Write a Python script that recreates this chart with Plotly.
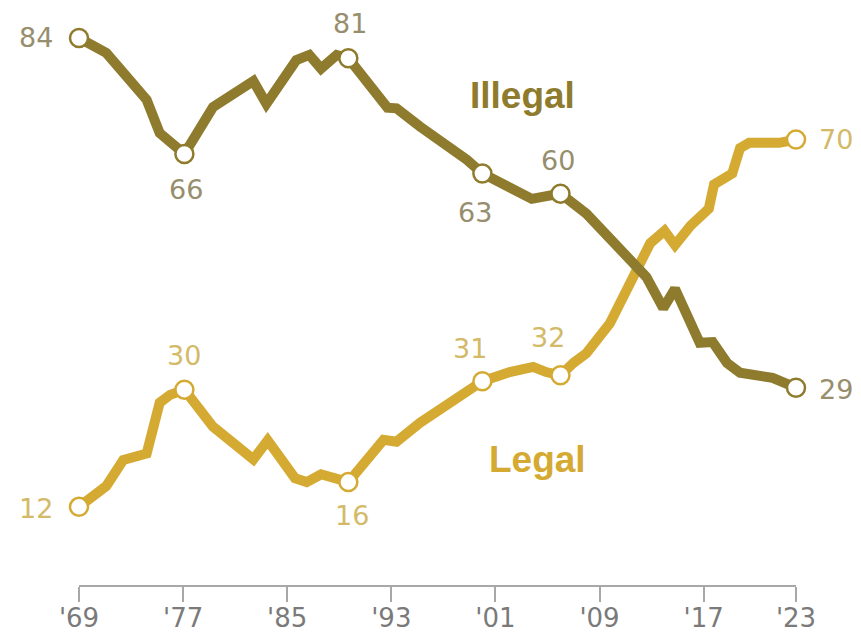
import plotly.graph_objects as go

# ---------------- data ----------------
legal_years = [1969.0, 1971.1, 1972.4, 1974.2, 1975.2, 1976.0, 1977.1, 1979.3, 1982.4, 1983.5,
               1985.6, 1986.5, 1987.6, 1989.7, 1992.4, 1993.4, 1995.2, 1996.7, 1998.3, 2000.0,
               2002.1, 2003.9, 2004.9, 2006.0, 2007.0, 2008.0, 2009.8, 2010.8, 2011.9, 2012.9,
               2014.0, 2014.8, 2016.0, 2017.4, 2017.8, 2019.2, 2019.8, 2020.5, 2022.8, 2024.1]
legal_values = [12.0, 15.2, 19.2, 20.2, 28.0, 29.2, 30.0, 24.3, 19.3, 22.2,
                16.4, 15.8, 17.0, 15.8, 22.3, 22.0, 24.9, 26.9, 28.9, 31.3,
                32.7, 33.5, 32.7, 32.2, 34.1, 35.6, 40.2, 44.2, 48.4, 52.5,
                54.4, 52.2, 55.2, 57.8, 61.5, 63.2, 67.1, 67.9, 67.9, 68.4]

illegal_years = [1969.0, 1971.1, 1974.2, 1975.2, 1977.1, 1979.3, 1982.4, 1983.4, 1985.7, 1986.7,
                 1987.6, 1988.8, 1989.7, 1992.7, 1993.4, 1995.2, 1998.8, 2000.0, 2003.8, 2004.9,
                 2006.0, 2008.0, 2012.6, 2013.9, 2014.8, 2016.7, 2017.7, 2018.8, 2019.8, 2022.3,
                 2024.1]
illegal_values = [84.0, 81.7, 74.5, 69.4, 66.2, 73.4, 77.4, 73.9, 80.6, 81.4,
                  79.3, 81.4, 80.9, 73.3, 73.2, 70.4, 65.3, 63.2, 59.3, 59.6,
                  60.1, 57.0, 47.3, 42.5, 45.5, 37.2, 37.3, 34.1, 32.6, 31.8,
                  30.3]

key_years = [1969.0, 1977.1, 1989.7, 2000.0, 2006.0, 2024.1]
illegal_key_labels = ["84", "66", "81", "63", "60", "29"]
legal_key_labels = ["12", "30", "16", "31", "32", "70"]

tick_years = [1969, 1977, 1985, 1993, 2001, 2009, 2017, 2024.1]
tick_labels = ["'69", "'77", "'85", "'93", "'01", "'09", "'17", "'23"]

series_names = ["Illegal", "Legal"]
series_label_pos = {"Illegal": (2003.1, 75.2), "Legal": (2004.25, 19.2)}

# ---------------- styles ----------------
ILLEGAL_COLOR = "#8E7B2D"
LEGAL_COLOR = "#D4AA33"
ILLEGAL_TEXT = "#978E6D"
LEGAL_TEXT = "#D3BA69"
NUM_FONT = "DejaVu Sans"
BOLD_FONT = "Liberation Sans"

fig = go.Figure()

fig.add_trace(go.Scatter(x=legal_years, y=legal_values, mode="lines",
                         line=dict(color=LEGAL_COLOR, width=10),
                         hoverinfo="skip", showlegend=False, cliponaxis=False))
fig.add_trace(go.Scatter(x=illegal_years, y=illegal_values, mode="lines",
                         line=dict(color=ILLEGAL_COLOR, width=10),
                         hoverinfo="skip", showlegend=False, cliponaxis=False))

legal_lookup = dict(zip(legal_years, legal_values))
illegal_lookup = dict(zip(illegal_years, illegal_values))
legal_key_vals = [legal_lookup[y] for y in key_years]
illegal_key_vals = [illegal_lookup[y] for y in key_years]

fig.add_trace(go.Scatter(x=key_years, y=legal_key_vals, mode="markers",
                         marker=dict(size=18, color="white",
                                     line=dict(color=LEGAL_COLOR, width=2.5)),
                         hoverinfo="skip", showlegend=False, cliponaxis=False))
fig.add_trace(go.Scatter(x=key_years, y=illegal_key_vals, mode="markers",
                         marker=dict(size=18, color="white",
                                     line=dict(color=ILLEGAL_COLOR, width=2.5)),
                         hoverinfo="skip", showlegend=False, cliponaxis=False))

# label offsets (pixels) per key point: (xanchor, xshift, yshift)
illegal_offsets = [("right", -24, 1), ("center", 2, -36), ("center", 2, 35),
                   ("center", -7, -39), ("center", -2, 33), ("left", 21, -2)]
legal_offsets = [("right", -24, -2), ("center", 0, 34), ("center", 4, -33),
                 ("center", -12, 33), ("center", -12, 38), ("left", 21, 0)]

annotations = []
for x, y, t, (xa, xs, ys) in zip(key_years, illegal_key_vals, illegal_key_labels, illegal_offsets):
    annotations.append(dict(x=x, y=y, text=t, showarrow=False, xanchor=xa, yanchor="middle",
                            xshift=xs, yshift=ys,
                            font=dict(family=NUM_FONT, size=27, color=ILLEGAL_TEXT)))
for x, y, t, (xa, xs, ys) in zip(key_years, legal_key_vals, legal_key_labels, legal_offsets):
    annotations.append(dict(x=x, y=y, text=t, showarrow=False, xanchor=xa, yanchor="middle",
                            xshift=xs, yshift=ys,
                            font=dict(family=NUM_FONT, size=27, color=LEGAL_TEXT)))

for name, color in zip(series_names, [ILLEGAL_COLOR, LEGAL_COLOR]):
    lx, ly = series_label_pos[name]
    annotations.append(dict(x=lx, y=ly, text="<b>%s</b>" % name, showarrow=False,
                            xanchor="center", yanchor="middle",
                            font=dict(family=BOLD_FONT, size=37, color=color)))

# page body has an 8px margin: figure offset by 8px, margins compensate
fig.update_layout(
    width=853, height=645,
    margin=dict(l=71, r=65, t=30, b=68),
    paper_bgcolor="white", plot_bgcolor="white",
    annotations=annotations,
    xaxis=dict(range=[1969, 2024.1], showgrid=False, zeroline=False, automargin=False,
               showline=True, linecolor="#A8A8A8", linewidth=1.5,
               ticks="outside", ticklen=15, tickwidth=1.5, tickcolor="#A8A8A8",
               ticklabelstandoff=-6,
               tickvals=tick_years, ticktext=tick_labels,
               tickfont=dict(family=NUM_FONT, size=26, color="#7A7A7A")),
    yaxis=dict(range=[0, 84], showgrid=False, zeroline=False, showline=False, automargin=False,
               showticklabels=False, ticks=""),
)

fig.write_html("out.html")
